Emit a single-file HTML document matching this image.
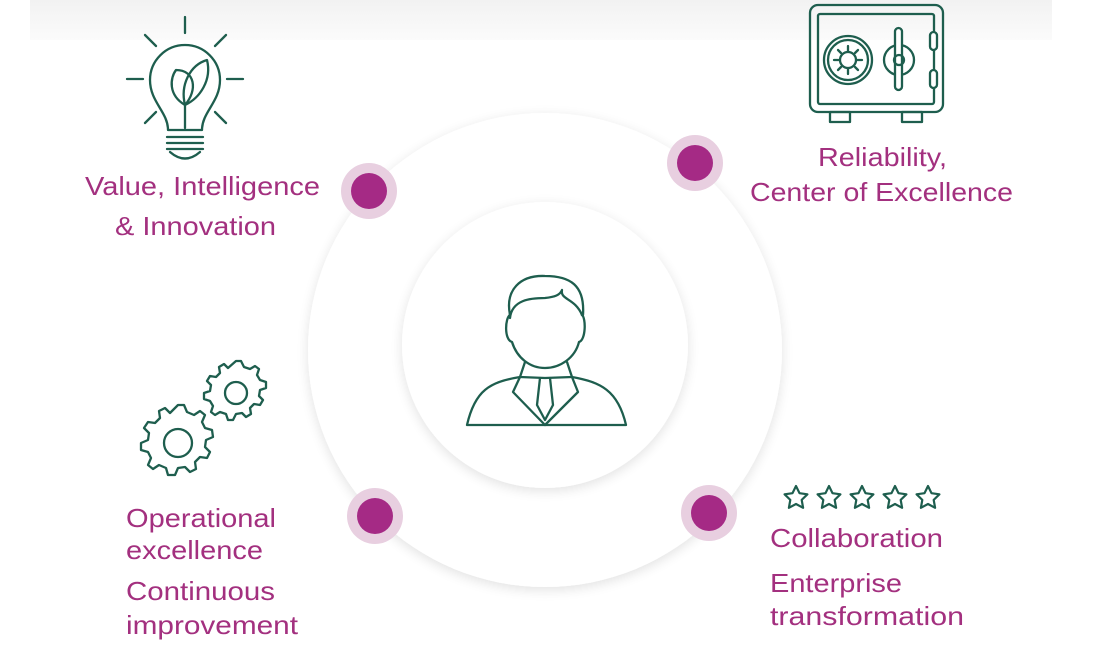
<!DOCTYPE html>
<html><head><meta charset="utf-8"><style>
html,body{margin:0;padding:0;background:#fff;}
svg{display:block;}
text{font-family:"Liberation Sans",sans-serif;fill:#a3307f;font-size:26px;}
</style></head><body>
<svg width="1093" height="645" viewBox="0 0 1093 645" xmlns="http://www.w3.org/2000/svg">
<defs>
<linearGradient id="band" x1="0" y1="0" x2="0" y2="1"><stop offset="0" stop-color="#f2f2f2"/><stop offset="1" stop-color="#fbfbfb"/></linearGradient>
<filter id="sh" x="-20%" y="-20%" width="140%" height="140%"><feGaussianBlur in="SourceAlpha" stdDeviation="6"/><feOffset dy="3"/><feComponentTransfer><feFuncA type="linear" slope="0.12"/></feComponentTransfer><feMerge><feMergeNode/><feMergeNode in="SourceGraphic"/></feMerge></filter>
</defs>
<rect x="30" y="0" width="1022" height="40" fill="url(#band)"/>
<circle cx="545" cy="350" r="237" fill="#fff" filter="url(#sh)"/>
<circle cx="545" cy="345" r="143" fill="#fff" filter="url(#sh)"/>
<g fill="#e8cfe0"><circle cx="369" cy="191" r="28"/><circle cx="695" cy="163" r="28"/><circle cx="375" cy="516" r="28"/><circle cx="709" cy="513" r="28"/></g>
<g fill="#a52a85"><circle cx="369" cy="191" r="18"/><circle cx="695" cy="163" r="18"/><circle cx="375" cy="516" r="18"/><circle cx="709" cy="513" r="18"/></g>
<g fill="none" stroke="#1e5e4e" stroke-width="2.3" stroke-linecap="round" stroke-linejoin="round">
<line x1="185" y1="17" x2="185" y2="33"/><line x1="127" y1="79" x2="143" y2="79"/><line x1="227" y1="79" x2="243" y2="79"/>
<line x1="145" y1="35" x2="156" y2="46"/><line x1="226" y1="35" x2="215" y2="46"/><line x1="145" y1="123" x2="156" y2="112"/><line x1="226" y1="123" x2="215" y2="112"/>
<path d="M168 130 C168 112 150 102 150 80 A35 35 0 0 1 220 80 C220 102 202 112 202 130 Z"/>
<line x1="167" y1="137" x2="203" y2="137"/><line x1="167" y1="143" x2="203" y2="143"/><line x1="167" y1="149" x2="203" y2="149"/>
<path d="M170 152 Q185 165 200 152"/>
<path d="M185 128 L185 105"/>
<path d="M185 105 C168 95 170 78 176 70 C195 70 198 90 185 105"/>
<path d="M185 105 C180 85 190 65 207 60 C212 80 200 98 185 105"/>
<rect x="810" y="5" width="133" height="107" rx="8"/>
<rect x="818" y="14" width="116" height="90" rx="2"/>
<rect x="830" y="112" width="20" height="10"/><rect x="902" y="112" width="20" height="10"/>
<circle cx="848" cy="60" r="24"/><circle cx="848" cy="60" r="20"/><circle cx="848" cy="60" r="8"/>
<path d="M848 46v5M848 69v5M834 60h5M857 60h5M838 50l3 3M858 50l-3 3M838 70l3-3M858 70l-3-3"/>
<circle cx="899" cy="60" r="15"/><rect x="895" y="28" width="7" height="62" rx="3.5" fill="#fff"/><circle cx="899" cy="60" r="5"/>
<rect x="930" y="32" width="7" height="18" rx="3.5" fill="#fff"/><rect x="930" y="70" width="7" height="18" rx="3.5" fill="#fff"/>
<path d="M510 315 C505 290 520 275 545 276 C570 276 585 285 583 315"/>
<path d="M510 318 C512 300 530 298 545 298 C555 297 560 295 562 290 C560 300 575 298 582 315"/>
<path d="M510 315 C505 318 504 340 512 342 C517 358 530 368 545 368 C560 368 575 358 579 342 C586 340 586 318 582 315"/>
<path d="M525 362 L520 377 C490 382 475 390 467 425 L626 425 C618 390 600 382 572 377 L567 362"/>
<path d="M520 377 L545 378 L572 377"/>
<path d="M520 377 L513 392 L545 425 L578 392 L572 377"/>
<path d="M540 378 L537 405 L545 420 L553 405 L550 378"/>
<path d="M178 405 l6 0 l3 7 l7 3 l6 -4 l5 4 l-3 7 l3 6 l7 2 l1 7 l-7 3 l-1 7 l5 5 l-3 6 l-7 -1 l-5 5 l1 7 l-6 3 l-5 -5 l-7 1 l-3 7 l-7 0 l-2 -7 l-7 -3 l-6 4 l-5 -4 l3 -7 l-3 -6 l-7 -2 l0 -7 l7 -3 l1 -7 l-5 -5 l4 -6 l7 1 l5 -5 l-1 -7 l6 -3 l5 5 Z"/>
<circle cx="178" cy="443" r="14"/>
<path d="M236 361 l5 0 l3 6 l6 2 l5 -3 l4 3 l-2 6 l3 5 l6 2 l0 6 l-6 2 l-1 6 l4 4 l-3 5 l-6 -1 l-4 4 l1 6 l-5 3 l-4 -4 l-6 1 l-3 6 l-5 0 l-2 -6 l-6 -2 l-5 3 l-4 -3 l2 -6 l-3 -5 l-6 -2 l0 -6 l6 -2 l1 -6 l-4 -4 l3 -5 l6 1 l4 -4 l-1 -6 l5 -3 l4 4 Z"/>
<circle cx="236" cy="393" r="11"/>
</g>
<g fill="none" stroke="#1e5e4e" stroke-width="2.2" stroke-linejoin="round">
<path id="st" d="M796 486 l3.5 7.2 7.9 1.1 -5.7 5.6 1.4 7.9 -7.1 -3.8 -7.1 3.8 1.4 -7.9 -5.7 -5.6 7.9 -1.1 Z"/>
<use href="#st" x="33"/><use href="#st" x="66"/><use href="#st" x="99"/><use href="#st" x="132"/>
</g>
<text x="85" y="195" textLength="235" lengthAdjust="spacingAndGlyphs">Value, Intelligence</text>
<text x="115" y="235" textLength="161" lengthAdjust="spacingAndGlyphs">&amp; Innovation</text>
<text x="818" y="166" textLength="129" lengthAdjust="spacingAndGlyphs">Reliability,</text>
<text x="750" y="201" textLength="263" lengthAdjust="spacingAndGlyphs">Center of Excellence</text>
<text x="126" y="527" textLength="150" lengthAdjust="spacingAndGlyphs">Operational</text>
<text x="126" y="559" textLength="137" lengthAdjust="spacingAndGlyphs">excellence</text>
<text x="126" y="600" textLength="149" lengthAdjust="spacingAndGlyphs">Continuous</text>
<text x="126" y="634" textLength="172" lengthAdjust="spacingAndGlyphs">improvement</text>
<text x="770" y="547" textLength="173" lengthAdjust="spacingAndGlyphs">Collaboration</text>
<text x="770" y="592" textLength="132" lengthAdjust="spacingAndGlyphs">Enterprise</text>
<text x="770" y="625" textLength="194" lengthAdjust="spacingAndGlyphs">transformation</text>
</svg>
</body></html>
